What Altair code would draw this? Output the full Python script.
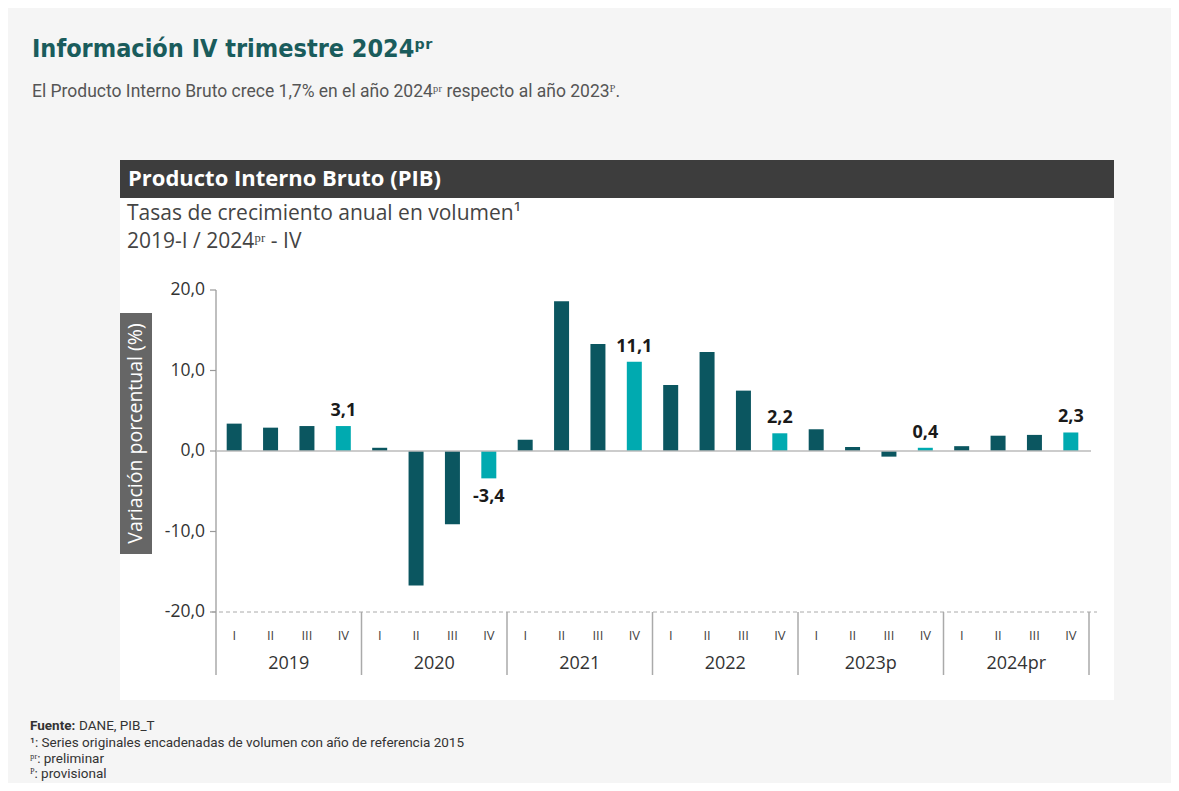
import altair as alt
import pandas as pd

# ---------------- data ----------------
years = ["2019", "2020", "2021", "2022", "2023p", "2024pr"]
quarters = ["I", "II", "III", "IV"]
values = [3.4, 2.9, 3.1, 3.1,
          0.4, -16.7, -9.1, -3.4,
          1.4, 18.6, 13.3, 11.1,
          8.2, 12.3, 7.5, 2.2,
          2.7, 0.5, -0.7, 0.4,
          0.6, 1.9, 2.0, 2.3]
y_ticks = [-20, -10, 0, 10, 20]

rows = []
i = 0
for y in years:
    for q in quarters:
        v = values[i]
        rows.append({"idx": i, "year": y, "quarter": q, "value": v,
                     "label": f"{v:.1f}".replace(".", ",")})
        i += 1
df = pd.DataFrame(rows)

year_df = pd.DataFrame({"year": years, "center": [1.5 + 4 * k for k in range(len(years))]})
sep_df = pd.DataFrame({"sep": [3.5 + 4 * k for k in range(len(years))]})
tick_df = pd.DataFrame({"t": y_ticks,
                        "lab": [f"{t:.1f}".replace(".", ",") for t in y_ticks]})
zero_df = pd.DataFrame({"y": [0]})
low_df = pd.DataFrame({"y": [min(y_ticks)]})

DARK = "#0b5660"
LIGHT = "#00aab0"
FONT = "Open Sans"

xs = alt.Scale(domain=[-0.5, 23.5], nice=False, zero=False, padding=0)
ys = alt.Scale(domain=[-20, 20], nice=False)

one = pd.DataFrame({"a": [0]})


def rect(x, x2, y, y2, color):
    return alt.Chart(one).mark_rect(color=color).encode(
        x=alt.value(x), x2=alt.value(x2), y=alt.value(y), y2=alt.value(y2))


def text(t, x, y, size, color, font=FONT, weight="normal", align="left",
         baseline="middle", angle=0):
    kw = dict(text=t, fontSize=size, color=color, font=font, fontWeight=weight,
              align=align, baseline=baseline)
    if angle:
        kw["angle"] = angle
    return alt.Chart(one).mark_text(**kw).encode(x=alt.value(x), y=alt.value(y))


# page-level decorations (coordinates relative to plot origin)
white_box = rect(-96, 898, -130, 410, "white")
header = rect(-96, 898, -130, -92, "#3d3d3d")
header_txt = text("Producto Interno Bruto (PIB)", -88, -111, 22, "white", weight="bold")
sub1 = text("Tasas de crecimiento anual en volumen¹", -89, -76, 21, "#444")
sub2 = text("2019-I / 2024ᵖʳ - IV", -89, -48, 21, "#444")
ytitle_box = rect(-96, -64, 23, 264, "#666666")
ytitle = text("Variación porcentual (%)", -80, 143.5, 19.5, "white", align="center", angle=270)

page_title = text("Información IV trimestre 2024ᵖʳ", -184, -233, 25, "#1a5c5c",
                  font="DejaVu Sans Condensed, Roboto, sans-serif",
                  weight="bold", baseline="alphabetic")
page_sub = text("El Producto Interno Bruto crece 1,7% en el año 2024ᵖʳ respecto al año 2023ᴾ.",
                -184, -193, 17.5, "#555", font="Roboto", baseline="alphabetic")

FOOT = "Roboto"
f1a = text("Fuente:", -186, 436, 13.5, "#333", font=FOOT, weight="bold")
f1b = text("DANE, PIB_T", -137, 436, 13.5, "#333", font=FOOT)
f2 = text("¹: Series originales encadenadas de volumen con año de referencia 2015",
          -186, 453, 13.5, "#333", font=FOOT)
f3 = text("ᵖʳ: preliminar", -186, 469, 13.5, "#333", font=FOOT)
f4 = text("ᴾ: provisional", -186, 484, 13.5, "#333", font=FOOT)

# axis-like marks
yaxis_line = alt.Chart(one).mark_rule(color="#aaaaaa", strokeWidth=1.5).encode(
    x=alt.value(0), y=alt.value(0), y2=alt.value(385))
ytick_rules = alt.Chart(tick_df).mark_rule(color="#999999", strokeWidth=1.2).encode(
    y=alt.Y("t:Q", scale=ys, axis=None), x=alt.value(-6), x2=alt.value(0))
ytick_labels = alt.Chart(tick_df).mark_text(
    fontSize=17.5, font=FONT, color="#333", align="right", baseline="middle").encode(
    y=alt.Y("t:Q", scale=ys, axis=None), x=alt.value(-11), text="lab:N")
zero_line = alt.Chart(zero_df).mark_rule(color="#bbbbbb", strokeWidth=1.5).encode(
    y=alt.Y("y:Q", scale=ys, axis=None), x=alt.value(0), x2=alt.value(875))
dash_line = alt.Chart(low_df).mark_rule(color="#aaaaaa", strokeWidth=1, strokeDash=[4, 3]).encode(
    y=alt.Y("y:Q", scale=ys, axis=None), x=alt.value(-4), x2=alt.value(881))
seps = alt.Chart(sep_df).mark_rule(color="#aaaaaa", strokeWidth=1.5).encode(
    x=alt.X("sep:Q", scale=xs, axis=None), y=alt.value(322), y2=alt.value(385))

bars = alt.Chart(df).mark_bar(size=15, orient="vertical").encode(
    x=alt.X("idx:Q", scale=xs, axis=None),
    y=alt.Y("value:Q", scale=ys, axis=None),
    color=alt.condition("datum.quarter == 'IV'", alt.value(LIGHT), alt.value(DARK)),
)

pos_lab = alt.Chart(df).transform_filter(
    "datum.quarter == 'IV' && datum.value >= 0").mark_text(
    fontSize=18, fontWeight="bold", font=FONT, color="#1a1a1a",
    baseline="alphabetic", dy=-10).encode(
    x=alt.X("idx:Q", scale=xs, axis=None),
    y=alt.Y("value:Q", scale=ys, axis=None),
    text="label:N")
neg_lab = alt.Chart(df).transform_filter(
    "datum.quarter == 'IV' && datum.value < 0").mark_text(
    fontSize=18, fontWeight="bold", font=FONT, color="#1a1a1a",
    baseline="top", dy=10).encode(
    x=alt.X("idx:Q", scale=xs, axis=None),
    y=alt.Y("value:Q", scale=ys, axis=None),
    text="label:N")

q_lab = alt.Chart(df).mark_text(fontSize=13, font=FONT, color="#444").encode(
    x=alt.X("idx:Q", scale=xs, axis=None), y=alt.value(346), text="quarter:N")
y_lab = alt.Chart(year_df).mark_text(fontSize=18, font=FONT, color="#333").encode(
    x=alt.X("center:Q", scale=xs, axis=None), y=alt.value(374), text="year:N")

chart = alt.layer(
    white_box, header, header_txt, sub1, sub2, ytitle_box, ytitle,
    page_title, page_sub, f1a, f1b, f2, f3, f4,
    dash_line, seps, yaxis_line, ytick_rules, ytick_labels,
    bars, zero_line, pos_lab, neg_lab, q_lab, y_lab,
).properties(
    width=873, height=322,
    autosize=alt.AutoSizeParams(type="none"),
    padding={"left": 208, "top": 282, "right": 82, "bottom": 171},
    background="#f5f5f5",
).configure_view(stroke=None)

chart.save("out.html", embed_options={"renderer": "svg", "actions": False})
